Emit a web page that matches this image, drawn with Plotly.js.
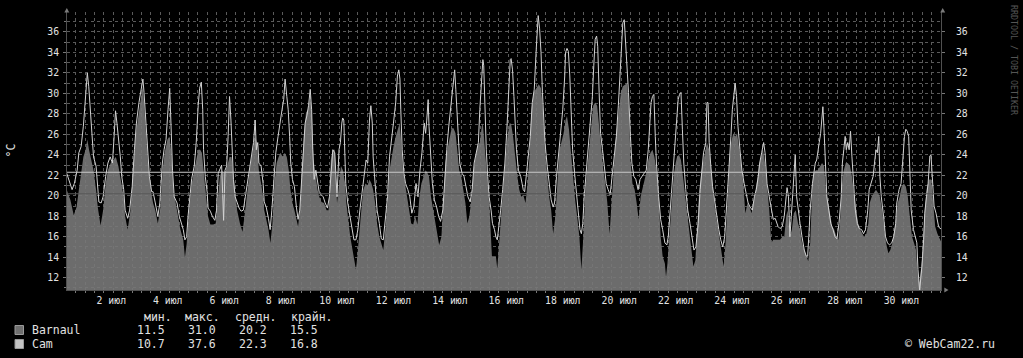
<!DOCTYPE html>
<html><head><meta charset="utf-8">
<script src="https://cdn.plot.ly/plotly-3.0.1.min.js"></script>
<style>html,body{margin:0;padding:0;background:#000;}#chart{width:1023px;height:358px;}</style>
</head><body><div id="chart"></div>
<script>
// ---- data (time = day of July + fraction of day) ----
const seriesNames = ['Barnaul', 'Cam'];
const statHeaders = ['мин.', 'макс.', 'средн.', 'крайн.'];
const barnStats = [11.5, 31.0, 20.2, 15.5];
const camStats = [10.7, 37.6, 22.3, 16.8];
const dayLabels = [2,4,6,8,10,12,14,16,18,20,22,24,26,28,30];
const monthLabel = 'июл';
const timeRange = [0.930, 31.906];
const tempRange = [10.8, 37.95];

const barnPts = [[0.92,20.6],[1.05,19.6],[1.17,18.1],[1.27,18.9],[1.35,20.6],[1.43,22.5],[1.51,23.8],[1.59,24.5],[1.65,25.5],[1.71,24.5],[1.77,23.8],[1.87,22.5],[1.96,20.6],[2.02,18.9],[2.12,17.1],[2.21,18.6],[2.30,21.2],[2.38,22.5],[2.48,23.2],[2.58,23.5],[2.66,23.8],[2.75,22.9],[2.84,21.6],[2.94,19.9],[2.99,18.0],[3.08,16.7],[3.18,18.6],[3.27,21.9],[3.36,25.8],[3.44,27.4],[3.54,29.4],[3.61,30.7],[3.66,29.1],[3.73,26.1],[3.80,23.2],[3.90,20.6],[3.98,19.3],[4.06,18.6],[4.15,17.3],[4.24,18.9],[4.32,22.5],[4.39,24.2],[4.49,25.5],[4.56,25.8],[4.63,24.2],[4.70,20.6],[4.79,19.3],[4.87,18.0],[4.95,16.7],[5.05,15.7],[5.11,14.0],[5.17,15.3],[5.24,18.0],
[5.35,21.2],[5.44,22.5],[5.51,23.8],[5.58,24.5],[5.65,24.5],[5.71,24.2],[5.77,22.5],[5.83,20.9],[5.90,18.9],[5.93,18.0],[6.01,17.2],[6.11,17.2],[6.20,17.3],[6.28,19.9],[6.35,21.9],[6.42,22.5],[6.49,22.2],[6.57,22.5],[6.64,23.2],[6.69,23.8],[6.76,23.8],[6.83,21.9],[6.89,19.9],[6.96,18.6],[7.06,17.3],[7.15,16.5],[7.22,18.0],[7.30,19.9],[7.37,21.9],[7.44,23.2],[7.52,24.5],[7.59,25.8],[7.66,25.2],[7.73,22.5],[7.81,21.2],[7.88,19.9],[7.92,18.6],[7.99,17.7],[8.07,16.7],[8.14,15.4],[8.21,17.3],[8.28,21.2],[8.36,23.2],[8.43,23.8],[8.50,24.2],[8.57,23.8],[8.65,24.2],[8.72,23.8],[8.79,22.5],[8.85,20.6],[8.92,19.3],[8.99,18.6],[9.06,17.7],[9.12,17.0],[9.18,18.6],[9.26,22.5],[9.33,26.1],[9.40,28.1],[9.47,28.4],[9.55,29.7],[9.61,27.8],[9.67,23.5],[9.74,21.9],[9.81,20.6],[9.87,19.9],[9.95,19.4],[10.04,19.3],[10.13,18.6],[10.20,18.6],[10.28,23.5],[10.35,24.5],[10.42,24.5],[10.50,19.3],
[10.57,21.2],[10.64,22.9],[10.71,22.5],[10.79,21.2],[10.83,19.3],[10.90,17.3],[10.97,16.0],[11.05,14.7],[11.12,13.4],[11.17,12.8],[11.22,14.1],[11.29,16.7],[11.36,18.6],[11.43,20.6],[11.51,21.2],[11.58,21.0],[11.65,21.6],[11.72,21.2],[11.78,20.6],[11.85,19.3],[11.92,17.3],[12.00,16.0],[12.07,15.4],[12.14,14.7],[12.21,16.7],[12.29,19.3],[12.36,22.5],[12.43,23.8],[12.50,24.8],[12.58,25.8],[12.65,26.4],[12.72,27.1],[12.76,25.8],[12.84,22.5],[12.91,21.2],[12.98,19.9],[13.05,18.6],[13.13,17.3],[13.20,17.2],[13.27,18.0],[13.35,17.2],[13.42,19.9],[13.49,21.2],[13.56,21.9],[13.64,22.5],[13.71,22.2],[13.76,21.9],[13.83,19.9],[13.91,18.6],[13.98,17.3],[14.05,16.3],[14.12,15.2],[14.20,16.0],[14.27,19.9],[14.34,23.2],[14.41,24.5],[14.49,25.8],[14.56,26.6],[14.63,26.6],[14.70,26.1],[14.76,24.5],[14.83,22.5],[14.90,21.9],[14.98,20.6],[15.05,19.3],[15.12,17.3],[15.19,18.0],[15.27,19.9],[15.34,22.5],[15.41,23.8],[15.48,24.8],[15.56,25.2],[15.63,26.8],[15.67,27.0],
[15.70,25.8],[15.77,23.5],[15.84,21.2],[15.91,18.6],[15.99,14.1],[16.06,14.1],[16.13,14.1],[16.18,12.9],[16.25,16.0],[16.33,18.6],[16.40,21.2],[16.47,23.8],[16.54,25.8],[16.62,27.1],[16.67,27.0],[16.74,25.8],[16.81,23.8],[16.89,21.9],[16.96,20.6],[17.03,19.9],[17.10,20.1],[17.18,19.3],[17.25,21.2],[17.32,23.8],[17.39,28.4],[17.47,30.1],[17.54,30.4],[17.61,30.7],[17.65,30.9],[17.73,30.5],[17.80,28.4],[17.87,24.5],[17.95,21.9],[18.02,19.9],[18.09,18.6],[18.16,16.3],[18.24,18.0],[18.31,21.9],[18.38,24.5],[18.45,25.2],[18.53,26.1],[18.60,27.4],[18.65,27.8],[18.72,26.5],[18.80,23.8],[18.87,21.9],[18.94,19.6],[19.01,18.0],[19.09,16.0],[19.16,12.8],[19.23,16.0],[19.30,20.6],[19.38,23.2],[19.45,25.2],[19.52,27.1],[19.58,28.8],[19.65,29.1],[19.72,28.8],[19.79,27.1],[19.87,24.5],[19.94,22.5],[20.01,21.2],[20.08,19.3],[20.16,16.3],[20.23,19.3],[20.30,22.9],[20.37,25.2],[20.45,27.4],[20.52,29.1],[20.56,30.1],[20.63,30.7],[20.71,30.9],[20.78,31.0],[20.85,28.4],
[20.90,23.5],[20.97,21.2],[21.05,20.6],[21.12,19.3],[21.19,17.7],[21.26,19.9],[21.34,20.9],[21.41,21.9],[21.48,22.5],[21.53,23.5],[21.61,24.2],[21.68,24.5],[21.75,23.8],[21.82,22.5],[21.90,19.9],[21.97,16.0],[22.04,14.1],[22.12,13.4],[22.16,12.1],[22.21,13.4],[22.29,16.7],[22.36,19.9],[22.43,21.9],[22.50,23.2],[22.55,23.8],[22.62,24.0],[22.69,23.5],[22.76,21.9],[22.84,19.9],[22.91,18.6],[22.98,16.7],[23.05,14.7],[23.13,13.1],[23.20,13.7],[23.27,16.7],[23.34,20.6],[23.42,22.5],[23.49,23.5],[23.54,24.2],[23.61,25.2],[23.69,24.5],[23.76,22.5],[23.83,20.6],[23.90,18.6],[23.98,17.3],[24.05,16.0],[24.12,14.7],[24.20,13.1],[24.27,15.4],[24.34,19.9],[24.41,23.2],[24.47,25.2],[24.54,26.1],[24.61,25.8],[24.68,26.1],[24.76,24.5],[24.83,22.5],[24.90,21.2],[24.97,18.3],[25.05,19.3],[25.12,18.9],[25.19,18.3],[25.26,19.3],[25.34,20.6],[25.41,21.9],[25.45,22.9],[25.53,23.8],[25.60,24.5],[25.67,23.2],[25.74,20.9],[25.82,18.6],[25.89,15.4],[25.96,15.7],[26.03,15.7],
[26.13,15.7],[26.20,15.7],[26.28,16.0],[26.35,16.0],[26.42,18.0],[26.47,18.6],[26.55,16.0],[26.62,16.7],[26.69,18.3],[26.76,18.6],[26.84,17.3],[26.91,16.7],[26.98,15.4],[27.06,14.7],[27.13,14.1],[27.20,13.6],[27.27,15.4],[27.35,21.2],[27.40,22.2],[27.47,22.5],[27.54,22.5],[27.62,22.9],[27.69,23.2],[27.76,22.9],[27.83,20.6],[27.91,19.3],[27.98,18.0],[28.05,17.0],[28.12,16.7],[28.20,16.0],[28.27,15.7],[28.34,18.0],[28.39,20.9],[28.46,22.5],[28.53,23.2],[28.60,23.2],[28.68,22.9],[28.75,21.9],[28.82,20.3],[28.89,18.6],[28.97,17.3],[29.04,16.7],[29.11,16.3],[29.18,16.0],[29.26,16.3],[29.33,17.3],[29.38,19.3],[29.45,19.9],[29.53,20.3],[29.60,20.6],[29.67,20.3],[29.74,19.9],[29.82,18.6],[29.89,16.7],[29.96,15.4],[30.04,14.4],[30.11,14.7],[30.18,15.4],[30.25,16.7],[30.33,18.0],[30.37,19.3],[30.44,19.9],[30.51,20.9],[30.59,21.2],[30.66,20.9],[30.73,19.9],[30.80,18.0],[30.88,16.0],[30.95,15.4],[31.02,14.7],[31.09,12.1],[31.14,11.5],[31.23,13.7],[31.29,17.0],[31.34,19.0],[31.41,20.9],[31.49,21.6],[31.56,21.6],[31.63,19.0],[31.70,17.0],[31.78,16.3],[31.85,15.9],[31.91,15.5]];

const camPts = [[0.92,22.2],[1.00,21.6],[1.11,20.6],[1.19,21.2],[1.29,22.5],[1.35,24.2],[1.43,24.8],[1.51,26.8],[1.56,28.4],[1.60,30.1],[1.65,32.0],[1.70,30.7],[1.75,28.4],[1.80,25.8],[1.87,23.8],[1.96,22.9],[2.02,20.9],[2.06,19.4],[2.14,19.3],[2.21,19.9],[2.30,21.9],[2.38,23.2],[2.46,23.8],[2.54,23.2],[2.60,25.8],[2.65,28.3],[2.70,27.1],[2.75,25.8],[2.82,23.8],[2.87,21.9],[2.94,20.6],[2.99,18.6],[3.08,17.8],[3.15,18.6],[3.24,20.9],[3.32,24.5],[3.39,27.1],[3.48,29.1],[3.56,30.4],[3.62,31.4],[3.66,30.1],[3.72,27.1],[3.78,24.5],[3.85,21.9],[3.93,20.4],[3.98,20.4],[4.06,19.3],[4.15,18.0],[4.22,19.3],[4.31,23.2],[4.37,24.5],[4.44,25.5],[4.51,28.4],[4.57,30.5],[4.61,27.4],[4.67,22.5],[4.73,19.9],[4.83,19.3],[4.91,18.0],[4.98,17.3],[5.05,16.7],[5.11,15.7],[5.17,16.0],[5.22,18.0],
[5.35,21.7],[5.44,22.9],[5.51,25.2],[5.58,28.8],[5.63,30.5],[5.69,31.1],[5.74,28.4],[5.77,24.5],[5.83,21.9],[5.90,20.3],[5.93,18.8],[6.01,18.5],[6.08,18.0],[6.17,17.6],[6.23,18.6],[6.29,22.2],[6.35,22.7],[6.41,23.0],[6.45,20.0],[6.48,17.6],[6.53,22.5],[6.59,22.9],[6.64,25.8],[6.69,29.7],[6.74,27.4],[6.79,23.8],[6.83,21.6],[6.89,19.9],[6.96,19.3],[7.03,18.8],[7.10,18.5],[7.18,18.6],[7.25,19.9],[7.32,21.2],[7.39,22.5],[7.47,23.5],[7.54,25.2],[7.60,27.4],[7.64,24.5],[7.69,25.2],[7.73,23.2],[7.81,22.9],[7.88,21.2],[7.92,19.4],[7.99,18.9],[8.07,17.8],[8.13,16.7],[8.19,18.6],[8.26,21.2],[8.33,24.2],[8.41,25.8],[8.48,27.4],[8.55,28.4],[8.61,29.4],[8.66,31.4],[8.72,29.7],[8.77,28.4],[8.82,25.8],[8.86,23.2],[8.92,21.6],[8.99,20.9],[9.06,18.9],[9.12,17.7],[9.18,18.6],[9.24,21.6],[9.31,24.5],[9.37,27.1],[9.43,27.8],[9.49,28.8],[9.55,30.4],[9.60,28.4],[9.64,24.5],[9.69,21.6],[9.75,22.5],[9.81,21.6],[9.87,20.3],[9.94,20.1],[10.01,19.9],[10.08,19.3],[10.16,18.8],[10.23,19.9],[10.30,23.2],[10.35,24.5],[10.42,24.2],[10.50,19.9],
[10.57,24.5],[10.62,25.2],[10.67,27.1],[10.70,27.6],[10.74,27.4],[10.77,24.5],[10.81,21.2],[10.88,19.3],[10.95,18.0],[11.02,16.7],[11.10,15.7],[11.17,15.7],[11.24,16.7],[11.31,18.6],[11.39,20.6],[11.46,21.9],[11.53,23.5],[11.59,23.2],[11.65,27.4],[11.70,28.8],[11.75,27.1],[11.78,23.8],[11.85,20.6],[11.92,18.6],[12.00,17.3],[12.07,15.8],[12.14,15.7],[12.21,18.0],[12.29,19.9],[12.36,23.8],[12.43,25.8],[12.50,27.1],[12.58,29.1],[12.64,31.7],[12.69,32.3],[12.73,31.4],[12.76,28.4],[12.81,24.5],[12.87,22.2],[12.93,21.2],[13.01,20.6],[13.08,19.9],[13.15,18.3],[13.22,18.9],[13.30,21.2],[13.37,19.9],[13.44,22.5],[13.51,24.2],[13.59,27.1],[13.64,26.1],[13.68,27.4],[13.73,29.4],[13.76,26.8],[13.82,23.8],[13.88,21.2],[13.95,19.6],[14.03,18.9],[14.10,18.0],[14.17,17.5],[14.25,18.6],[14.32,21.9],[14.39,24.5],[14.46,26.8],[14.54,29.1],[14.61,31.0],[14.67,32.3],[14.71,30.4],[14.78,26.8],[14.85,23.2],[14.93,22.2],[15.00,21.9],[15.07,20.9],[15.14,19.9],[15.22,19.4],[15.29,20.6],[15.36,23.2],[15.44,24.5],[15.51,25.2],[15.56,28.4],[15.63,32.3],[15.67,33.3],
[15.70,32.7],[15.74,28.4],[15.79,24.5],[15.84,21.9],[15.89,19.9],[15.96,18.6],[16.01,17.3],[16.08,16.7],[16.13,16.0],[16.18,15.7],[16.23,16.7],[16.30,18.6],[16.37,20.6],[16.45,23.2],[16.52,26.5],[16.59,30.1],[16.64,33.3],[16.67,33.4],[16.72,32.3],[16.77,29.7],[16.81,27.1],[16.86,24.5],[16.93,22.5],[17.01,21.9],[17.06,21.2],[17.10,20.6],[17.15,20.4],[17.20,21.9],[17.27,23.8],[17.35,25.8],[17.42,29.1],[17.49,30.4],[17.56,34.3],[17.61,36.9],[17.63,37.6],[17.68,36.3],[17.73,34.0],[17.78,30.1],[17.82,27.4],[17.87,25.2],[17.95,22.9],[18.02,20.9],[18.09,19.6],[18.16,18.9],[18.21,19.3],[18.28,21.9],[18.36,24.5],[18.43,26.5],[18.50,28.4],[18.57,31.7],[18.60,34.0],[18.65,34.4],[18.70,34.1],[18.75,31.7],[18.80,27.4],[18.85,24.5],[18.92,22.2],[18.99,19.9],[19.06,17.7],[19.11,16.7],[19.16,16.3],[19.21,17.3],[19.26,19.9],[19.33,22.2],[19.40,24.5],[19.47,27.1],[19.55,29.7],[19.60,32.7],[19.65,35.3],[19.70,35.6],[19.74,34.6],[19.79,30.1],[19.84,26.1],[19.91,24.5],[19.96,23.2],[20.04,21.2],[20.11,20.6],[20.18,20.1],[20.25,21.9],[20.33,23.8],[20.40,25.8],[20.47,28.8],[20.54,32.3],[20.59,35.0],[20.63,36.9],[20.68,37.2],[20.73,35.0],[20.78,33.0],[20.83,30.1],
[20.90,25.8],[20.95,23.2],[21.02,21.9],[21.09,21.6],[21.17,20.6],[21.24,21.6],[21.31,21.9],[21.38,22.2],[21.46,22.5],[21.53,24.5],[21.58,27.4],[21.63,29.1],[21.68,29.7],[21.73,29.9],[21.78,25.8],[21.82,23.2],[21.90,19.9],[21.97,17.7],[22.04,16.7],[22.12,15.4],[22.19,15.2],[22.24,16.0],[22.31,18.6],[22.38,21.2],[22.45,23.2],[22.50,25.2],[22.55,27.8],[22.59,29.4],[22.64,29.9],[22.69,30.1],[22.74,26.5],[22.79,23.2],[22.86,20.6],[22.93,18.6],[23.01,17.3],[23.08,15.7],[23.15,14.7],[23.22,15.0],[23.30,17.3],[23.37,20.6],[23.44,22.9],[23.49,24.2],[23.57,25.2],[23.61,29.1],[23.65,29.1],[23.69,25.2],[23.74,23.2],[23.81,20.9],[23.88,19.6],[23.95,18.0],[24.03,16.7],[24.10,15.7],[24.17,15.0],[24.24,16.0],[24.32,19.3],[24.39,22.5],[24.46,25.8],[24.51,28.4],[24.56,30.1],[24.61,31.0],[24.66,29.7],[24.71,26.8],[24.78,24.5],[24.85,22.5],[24.93,21.2],[25.00,20.3],[25.07,19.3],[25.14,18.9],[25.22,18.6],[25.29,19.9],[25.36,20.6],[25.43,21.9],[25.48,23.2],[25.55,24.2],[25.62,25.2],[25.67,24.2],[25.74,21.2],[25.82,19.9],[25.89,18.6],[25.96,17.7],[26.03,17.8],
[26.13,17.0],[26.20,16.8],[26.28,17.0],[26.35,18.0],[26.42,20.6],[26.45,20.8],[26.50,19.9],[26.55,16.0],[26.60,18.0],[26.64,19.9],[26.69,21.9],[26.74,24.0],[26.79,19.9],[26.84,18.6],[26.91,17.3],[26.98,16.0],[27.06,14.7],[27.13,14.1],[27.18,14.1],[27.22,16.0],[27.27,18.6],[27.35,21.2],[27.40,22.5],[27.45,23.2],[27.50,23.5],[27.54,24.5],[27.59,25.2],[27.64,26.1],[27.69,28.4],[27.72,28.7],[27.76,26.5],[27.81,22.5],[27.86,19.9],[27.93,18.6],[28.00,17.3],[28.08,16.7],[28.15,16.0],[28.22,15.8],[28.29,17.3],[28.37,19.9],[28.41,23.2],[28.46,24.5],[28.51,25.8],[28.55,24.5],[28.60,25.2],[28.65,24.5],[28.70,26.3],[28.75,23.8],[28.80,21.2],[28.87,18.6],[28.94,17.3],[29.01,16.8],[29.09,16.7],[29.16,16.3],[29.23,16.7],[29.31,18.6],[29.36,20.6],[29.43,21.2],[29.50,21.9],[29.55,23.2],[29.60,24.5],[29.65,24.2],[29.70,25.8],[29.74,21.9],[29.79,19.9],[29.87,18.0],[29.94,16.0],[30.01,15.4],[30.08,15.2],[30.16,15.4],[30.23,16.0],[30.30,17.3],[30.34,19.3],[30.42,20.6],[30.49,21.2],[30.56,23.8],[30.61,25.8],[30.66,26.5],[30.71,26.3],[30.76,25.8],[30.80,21.9],[30.85,18.6],[30.93,16.7],[31.00,16.0],[31.05,15.4],[31.09,12.8],[31.15,10.7],[31.19,12.0],[31.23,13.1],[31.29,15.7],[31.33,18.3],[31.39,19.9],[31.45,21.2],[31.51,23.9],[31.55,24.0],[31.59,22.2],[31.66,19.0],[31.73,18.3],[31.78,17.7],[31.82,17.0],[31.87,16.8],[31.91,16.8]];

// ---- styling / layout (pixel geometry of the page) ----
const FONT = 'DejaVu Sans Mono, monospace';
const TXT = '#e2e2e2';
const GRID = '#5a5a5a';
const PL = 67, PR = 941, PT = 12, PB = 290;
const px = x => (x - PL) / (PR - PL);
const py = y => (PB - y) / (PB - PT);

const traces = [
  { x: barnPts.map(p => p[0]), y: barnPts.map(p => p[1]), type: 'scatter', mode: 'lines',
    fill: 'tozeroy', fillcolor: 'rgba(120,120,120,0.9)', line: { width: 0, color: '#777' },
    xaxis: 'x', yaxis: 'y', name: seriesNames[0], hoverinfo: 'skip' },
  { x: camPts.map(p => p[0]), y: camPts.map(p => p[1]), type: 'scatter', mode: 'lines',
    line: { width: 1, color: '#d2d2d2' }, xaxis: 'x2', yaxis: 'y2', name: seriesNames[1], hoverinfo: 'skip' }
];

const annotations = [];
const shapes = [];
const ann = (text, x, y, opt = {}) => annotations.push(Object.assign({
  text, xref: 'paper', yref: 'paper', x: px(x), y: py(y), showarrow: false,
  xanchor: 'left', yanchor: 'middle', font: { family: FONT, size: 11.5, color: TXT }
}, opt));

// legend header
const colX = [141.5, 183, 233, 289];
const valX = [135, 185.5, 236.5, 288];
statHeaders.forEach((h, i) => ann(h, colX[i], 316.5));
const rows = [
  { name: seriesNames[0], stats: barnStats, y: 330, fill: '#6f6f6f' },
  { name: seriesNames[1], stats: camStats, y: 344, fill: '#c4c4c4' }
];
rows.forEach(r => {
  ann(r.name, 30, r.y);
  r.stats.forEach((v, i) => ann(v.toFixed(1), valX[i], r.y));
  shapes.push({ type: 'rect', xref: 'paper', yref: 'paper', x0: px(15), x1: px(23.5),
    y0: py(r.y + 4.5), y1: py(r.y - 4.5), fillcolor: r.fill, line: { color: '#9a9a9a', width: 1 } });
});
ann('© WebCam22.ru', 902.5, 343.5);
ann('°C', 10.5, 151, { xanchor: 'center', textangle: -90, font: { family: FONT, size: 11.5, color: TXT } });
ann('RRDTOOL / TOBI OETIKER', 1014, 60, { xanchor: 'center', textangle: 90,
  font: { family: FONT, size: 8.3, color: '#555' } });

// average rules
shapes.push({ type: 'line', xref: 'paper', x0: 0, x1: 1, yref: 'y', y0: barnStats[2], y1: barnStats[2],
  line: { color: '#585858', width: 1 }, layer: 'above' });
shapes.push({ type: 'line', xref: 'paper', x0: 0, x1: 1, yref: 'y', y0: camStats[2], y1: camStats[2],
  line: { color: '#c8c8c8', width: 1 }, layer: 'above' });

// axis arrows
const tri = pts => 'M' + pts.map(p => px(p[0]) + ',' + py(p[1])).join(' L') + ' Z';
[[[66.8, 8], [64.3, 12.5], [69.3, 12.5]],
 [[942.7, 8], [940.2, 12.5], [945.2, 12.5]],
 [[948.5, 290], [944.3, 287.5], [944.3, 292.5]]].forEach(t =>
  shapes.push({ type: 'path', xref: 'paper', yref: 'paper', path: tri(t), fillcolor: '#7a7a7a', line: { width: 0 } }));

const tickFont = { family: FONT, size: 9.8, color: TXT };
const layout = {
  width: 1023, height: 358, margin: { l: PL, r: 1023 - PR, t: PT, b: 358 - PB },
  paper_bgcolor: '#000', plot_bgcolor: '#000', showlegend: false,
  xaxis: { range: timeRange, tickmode: 'linear', tick0: 2.571, dtick: 1 / 3,
    showgrid: true, gridcolor: GRID, griddash: 'dot', gridwidth: 1,
    ticks: 'outside', ticklen: 2, tickcolor: '#777', showticklabels: false,
    showline: true, linecolor: '#505050', linewidth: 1, zeroline: false, fixedrange: true },
  xaxis2: { range: timeRange, overlaying: 'x', side: 'bottom', tickmode: 'array',
    tickvals: dayLabels.map(d => d + 0.5), ticktext: dayLabels.map(d => d + ' ' + monthLabel),
    showgrid: false, ticks: '', tickfont: tickFont, zeroline: false, ticklabelstandoff: 3 },
  yaxis: { range: tempRange, tick0: 0, dtick: 2, tickmode: 'linear',
    showgrid: true, gridcolor: GRID, griddash: 'dot', gridwidth: 1,
    minor: { dtick: 1, tick0: 0, showgrid: true, gridcolor: GRID, griddash: 'dot', ticks: 'outside', ticklen: 2, tickcolor: '#777' },
    ticks: 'outside', ticklen: 3, tickcolor: '#777', tickfont: tickFont, ticklabelstandoff: 2,
    showline: true, linecolor: '#505050', linewidth: 1, zeroline: false },
  yaxis2: { range: tempRange, overlaying: 'y', side: 'right', tick0: 0, dtick: 2, tickmode: 'linear',
    showgrid: false, ticks: 'outside', ticklen: 3, tickcolor: '#777', tickfont: tickFont,
    ticklabelstandoff: 9, showline: true, linecolor: '#505050', zeroline: false },
  annotations, shapes
};

Plotly.newPlot('chart', traces, layout, { staticPlot: true, displayModeBar: false });
</script>
</body></html>
